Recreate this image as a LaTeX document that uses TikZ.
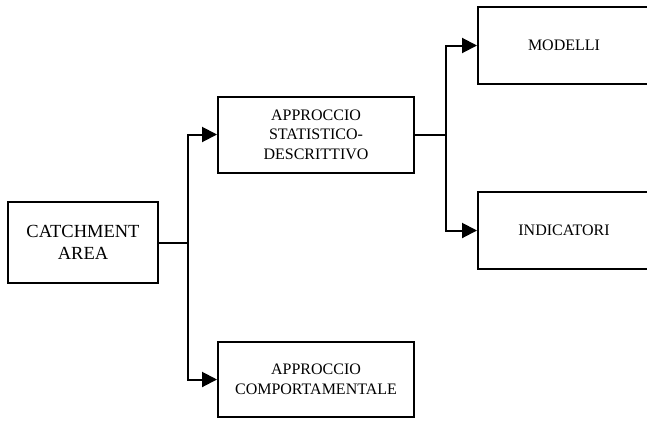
\documentclass[tikz,border=0pt]{standalone}
\usepackage{fontspec}
\setmainfont{Liberation Serif}
\usetikzlibrary{arrows.meta}
\begin{document}
\begin{tikzpicture}[x=1pt,y=-1pt,
  box/.style={draw, line width=2pt, inner sep=0pt, align=center},
  small/.style={font=\fontsize{16}{19.5}\selectfont},
  big/.style={font=\fontsize{18.5}{22}\selectfont},
  link/.style={line width=2pt, -{Triangle[length=15pt,width=15pt]}},
  plain/.style={line width=2pt}]
  \useasboundingbox (0,0) rectangle (647,421);
  \clip (0,0) rectangle (647,421);

  % boxes
  \node[box, big, minimum width=150pt, minimum height=81pt] (catch) at (83,242.5) {CATCHMENT\\AREA};
  \node[box, small, minimum width=196pt, minimum height=76pt] (stat) at (316,134.5) {APPROCCIO\\STATISTICO-\\DESCRITTIVO};
  \node[box, small, minimum width=196pt, minimum height=75pt] (comp) at (316,379.5) {APPROCCIO\\COMPORTAMENTALE};
  \node[box, small, minimum width=172pt, minimum height=77pt] (mod) at (564,45.5) {MODELLI};
  \node[box, small, minimum width=172pt, minimum height=77pt] (ind) at (564,230.5) {INDICATORI};

  % branch points
  \coordinate (j1) at (188,242.5);
  \coordinate (j2) at (446,134.5);

  % connectors
  \draw[plain] (catch.east) -- (j1);
  \draw[link] (j1) |- (stat.west);
  \draw[link] (j1) |- (comp.west);
  \draw[plain] (stat.east) -- (j2);
  \draw[link] (j2) |- (mod.west);
  \draw[link] (j2) |- (ind.west);
\end{tikzpicture}
\end{document}
